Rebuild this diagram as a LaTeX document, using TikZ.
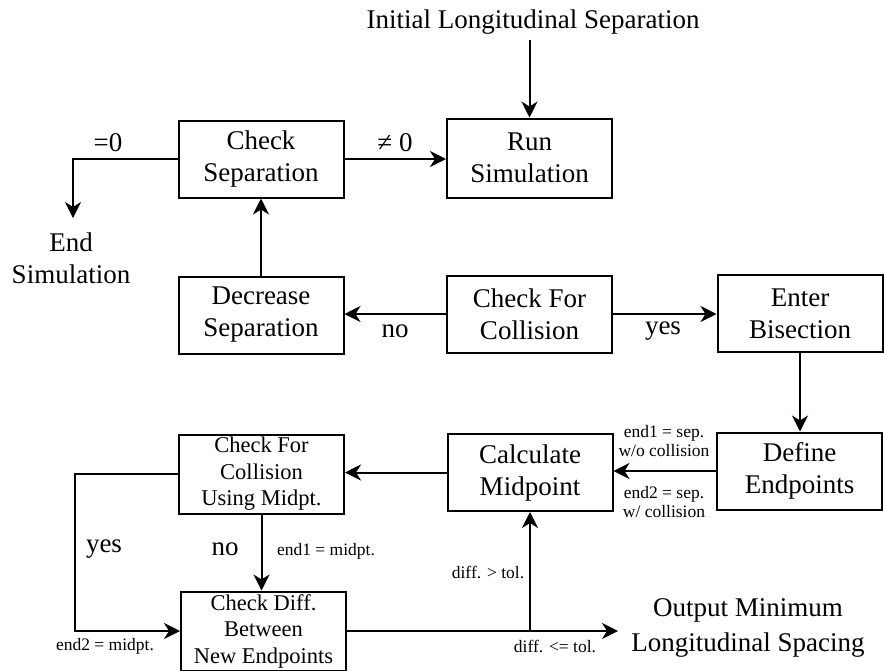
\documentclass[tikz,border=0pt]{standalone}
\usepackage{fontspec}
\setmainfont{Liberation Serif}
\usetikzlibrary{arrows.meta}
\begin{document}
\begin{tikzpicture}[x=1pt,y=-1pt,
 box/.style={draw,line width=2pt,inner sep=0pt,align=center,font=\fontsize{27}{32}\selectfont,minimum width=165pt,minimum height=77pt},
 boxs/.style={box,font=\fontsize{22.5}{26.5}\selectfont,minimum height=79pt},
 big/.style={inner sep=0pt,align=center,font=\fontsize{27}{32}\selectfont},
 small/.style={inner sep=0pt,align=center,font=\fontsize{17.5}{19.5}\selectfont},
 arr/.style={line width=2pt,-{Stealth[length=16pt,width=16pt,inset=5pt]}}]
\useasboundingbox (0,0) rectangle (884,670);
\node[box] (sep) at (261,159) {Check\\Separation};
\node[box,minimum height=79pt] (run) at (529.5,158) {Run\\Simulation};
\node[box] (coll) at (529.5,314) {Check For\\Collision};
\node[box] (bis) at (800,313.5) {Enter\\Bisection};
\node[box] (dec) at (261,315) {Decrease\\Separation};
\node[box] (def) at (799.5,471) {Define\\Endpoints};
\node[box] (mid) at (530,472.5) {Calculate\\Midpoint};
\node[boxs] (cm) at (261.5,474) {Check For\\Collision\\Using Midpt.};
\node[boxs] (diff) at (263.5,631) {Check Diff.\\Between\\New Endpoints};
\node[big] (init) at (533,22) {Initial Longitudinal Separation};
\coordinate (ia) at (529.5,40);
\draw[arr] (ia) -- (run.north);
\draw[arr] (sep.east) -- (sep.east -| run.west);
\node[big] (ne) at (395,143) {≠ 0};
\node[big] (eq) at (108,143) {=0};
\coordinate (endc) at (73,159);
\coordinate (endtip) at (73,218);
\draw[arr] (sep.west) -- (endc) -- (endtip);
\node[big] (endsim) at (71,258) {End\\Simulation};
\draw[arr] (dec.north) -- (sep.south);
\draw[arr] (coll.west) -- (coll.west -| dec.east);
\node[big] (no1) at (395,331) {no};
\node[big] (yes1) at (663,331) {yes};
\draw[arr] (coll.east) -- (coll.east -| bis.west);
\draw[arr] (bis.south) -- (bis.south |- def.north);
\draw[arr] (def.west) -- (def.west -| mid.east);
\node[small] (e1) at (664,441) {end1 = sep.\\w/o collision};
\node[small] (e2) at (664,502) {end2 = sep.\\w/ collision};
\draw[arr] (mid.west) -- (mid.west -| cm.east);
\draw[arr] (cm.south) -- (cm.south |- diff.north);
\node[big] (no2) at (225,549) {no};
\node[small] (m1) at (326,551) {end1 = midpt.};
\node[big] (yes2) at (104,549) {yes};
\node[small] (m2) at (105,646) {end2 = midpt.};
\coordinate (y1) at (75,474);
\coordinate (y2) at (75,631);
\draw[arr] (cm.west) -- (y1) -- (y2) -- (diff.west);
\coordinate (out) at (618,631);
\draw[arr] (diff.east) -- (out);
\coordinate (j) at (mid.south |- diff.east);
\draw[arr] (j) -- (mid.south);
\node[small] (gt) at (488,572) {diff. > tol.};
\node[small] (le) at (555,646) {diff. <= tol.};
\node[big,font=\fontsize{27}{35}\selectfont] (outp) at (748,628) {Output Minimum\\Longitudinal Spacing};
\end{tikzpicture}
\end{document}
